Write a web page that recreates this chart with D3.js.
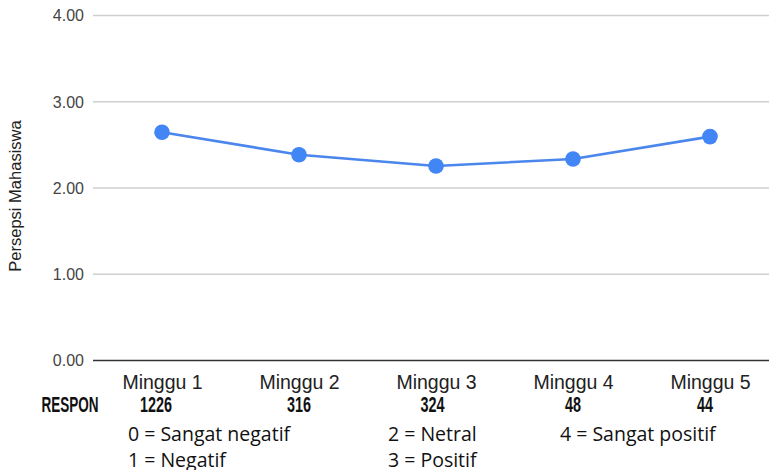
<!DOCTYPE html>
<html>
<head>
<meta charset="utf-8">
<script src="https://cdn.jsdelivr.net/npm/d3@7"></script>
<style>
  html, body { margin: 0; padding: 0; background: #fff; }
  svg { display: block; }
</style>
</head>
<body>
<svg id="chart" width="769" height="470"></svg>
<script>
// Weekly average student perception (scale 0–4) and response counts
const weeks = ["Minggu 1", "Minggu 2", "Minggu 3", "Minggu 4", "Minggu 5"];
const perception = [2.64, 2.38, 2.25, 2.33, 2.59];
const responses = [1226, 316, 324, 48, 44];
const yTicks = [0, 1, 2, 3, 4];
const scaleLegend = [
  ["0 = Sangat negatif", "1 = Negatif"],
  ["2 = Netral", "3 = Positif"],
  ["4 = Sangat positif"]
];

const svg = d3.select("#chart");
const plot = { left: 93, right: 769, top: 15, bottom: 360 };

const x = d3.scalePoint()
  .domain(weeks)
  .range([162, 710]);

const y = d3.scaleLinear()
  .domain([0, 4])
  .range([plot.bottom, plot.top]);

// Horizontal gridlines with value labels
const yAxis = d3.axisLeft(y)
  .tickValues(yTicks)
  .tickFormat(d3.format(".2f"))
  .tickSize(-(plot.right - plot.left))
  .tickPadding(9);

const gy = svg.append("g")
  .attr("transform", `translate(${plot.left},0)`)
  .call(yAxis);
gy.select(".domain").remove();
gy.selectAll(".tick line")
  .attr("stroke", d => d === 0 ? "#333" : "#cfcfcf")
  .attr("stroke-width", d => d === 0 ? 1.6 : 1.3);
gy.selectAll(".tick text")
  .attr("fill", "#444")
  .style("font-family", "Arial, 'Liberation Sans', sans-serif")
  .style("font-size", "16px")
  .attr("dy", "0.36em");

// Y axis title
svg.append("text")
  .attr("transform", `translate(21,196) rotate(-90)`)
  .attr("text-anchor", "middle")
  .attr("fill", "#222")
  .style("font-family", "Arial, 'Liberation Sans', sans-serif")
  .style("font-size", "16.5px")
  .text("Persepsi Mahasiswa");

// Category labels
const xAxis = d3.axisBottom(x).tickSize(0).tickPadding(0);
const gx = svg.append("g")
  .attr("transform", `translate(0,${plot.bottom})`)
  .call(xAxis);
gx.select(".domain").remove();
gx.selectAll(".tick text")
  .attr("y", 29)
  .attr("dy", 0)
  .attr("fill", "#222")
  .style("font-family", "Arial, 'Liberation Sans', sans-serif")
  .style("font-size", "19.5px");

// Line and markers
const line = d3.line()
  .x((d, i) => x(weeks[i]))
  .y(d => y(d));

svg.append("path")
  .datum(perception)
  .attr("fill", "none")
  .attr("stroke", "#4a86ec")
  .attr("stroke-width", 2.6)
  .attr("stroke-linejoin", "round")
  .attr("d", line);

svg.append("g")
  .selectAll("circle")
  .data(perception)
  .join("circle")
  .attr("cx", (d, i) => x(weeks[i]))
  .attr("cy", d => y(d))
  .attr("r", 7.8)
  .attr("fill", "#4285f4");

// Response counts row (tall condensed lettering)
const condensed = "'Liberation Sans', Arial, sans-serif";
svg.append("text")
  .attr("x", 41.5)
  .attr("y", 411.5)
  .attr("textLength", 57)
  .attr("lengthAdjust", "spacingAndGlyphs")
  .attr("fill", "#111")
  .style("font-family", condensed)
  .style("font-weight", "bold")
  .style("font-size", "21.5px")
  .text("RESPON");

const countShift = [-6, 0, -3.5, 0, -5];
svg.append("g")
  .selectAll("text")
  .data(responses)
  .join("text")
  .attr("x", (d, i) => x(weeks[i]) + countShift[i])
  .attr("y", 411.5)
  .attr("text-anchor", "middle")
  .attr("textLength", d => String(d).length * 8)
  .attr("lengthAdjust", "spacingAndGlyphs")
  .attr("fill", "#111")
  .style("font-family", condensed)
  .style("font-weight", "bold")
  .style("font-size", "21.5px")
  .text(d => d);

// Scale legend
const legendX = [128, 388, 560];
const legendY = [440.5, 466.5];
scaleLegend.forEach((col, ci) => {
  svg.append("g")
    .selectAll("text")
    .data(col)
    .join("text")
    .attr("x", legendX[ci])
    .attr("y", (d, ri) => legendY[ri])
    .attr("fill", "#111")
    .style("font-family", "'Open Sans', Lato, sans-serif")
    .style("font-size", "19.5px")
    .text(d => d);
});
</script>
</body>
</html>
